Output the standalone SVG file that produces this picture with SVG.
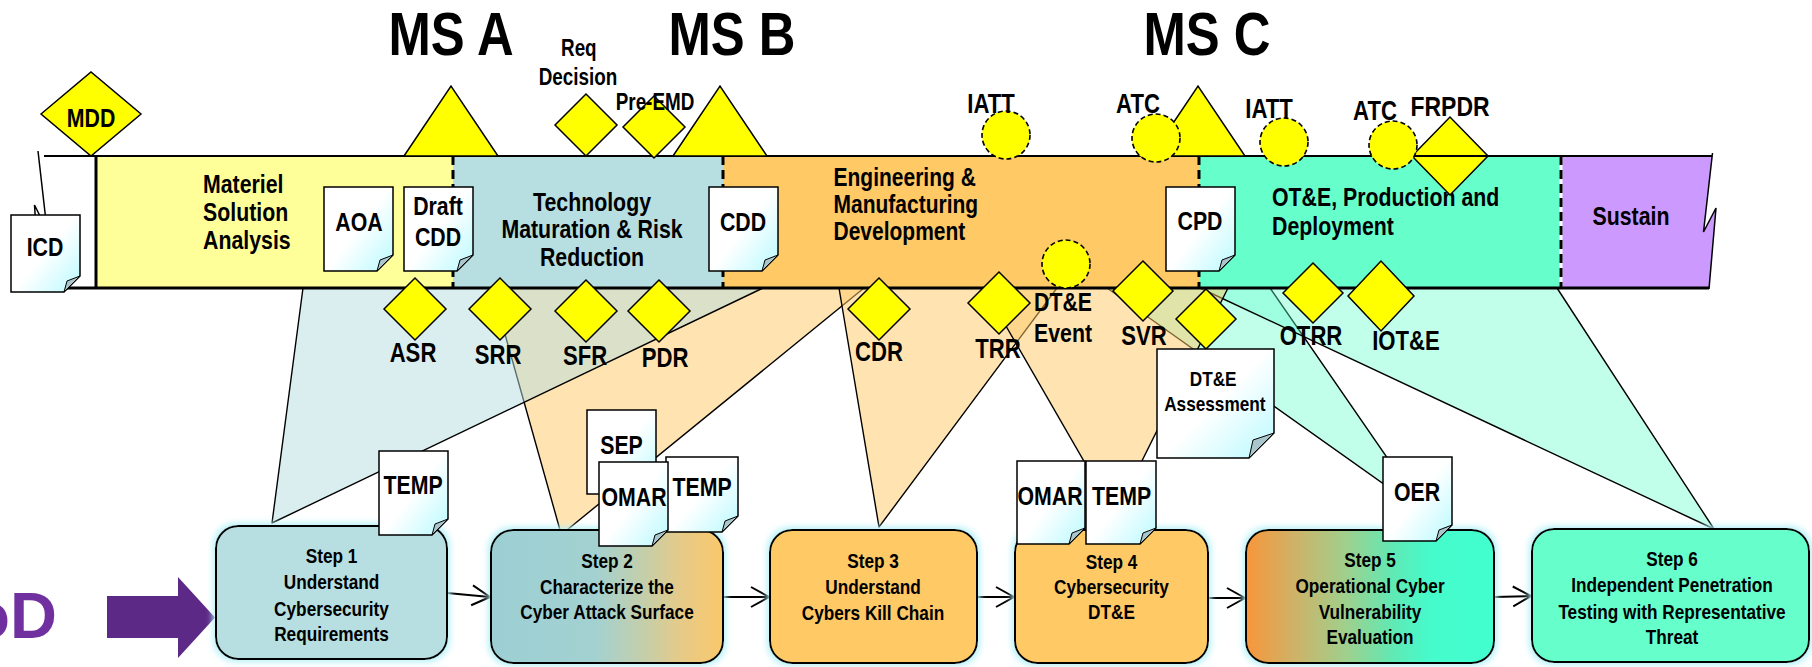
<svg xmlns="http://www.w3.org/2000/svg" width="1812" height="667" viewBox="0 0 1812 667">
<defs>
<style>
.t{font-family:"Liberation Sans Narrow","Arial Narrow","Liberation Sans",Arial,sans-serif;font-weight:bold;fill:#000}
.c{text-anchor:middle}
.f21{font-size:21px}
.f23{font-size:23px}
.f25{font-size:25px}
.f26{font-size:26px}
.f27{font-size:27px}
.f28{font-size:28px}
.ms{font-size:62px;text-anchor:middle}
.dia{fill:#ffff00;stroke:#000;stroke-width:1.5}
.circ{fill:#ffff00;stroke:#000;stroke-width:1.6;stroke-dasharray:5 3}
.tri{fill:#ffff00;stroke:#000;stroke-width:1.5}
.doc{fill:url(#docg);stroke:#000;stroke-width:1.5}
.fold{fill:#a8c6cc;stroke:#000;stroke-width:1}
.fun{stroke:#000;stroke-width:1.4;stroke-linejoin:round}
.fb{fill:#b7dde0;fill-opacity:.5}
.fo{fill:#ffc966;fill-opacity:.5}
.fm{fill:#66ffcc;fill-opacity:.4}
.div{stroke:#000;stroke-width:3;stroke-dasharray:9 5;fill:none}
.step{stroke:#000;stroke-width:2;filter:url(#glow)}
.arr{stroke:#000;stroke-width:2;fill:none;marker-end:url(#ah)}
.ln{stroke:#000;fill:none}
</style>
<linearGradient id="docg" x1="0.25" y1="0.2" x2="0.95" y2="0.85"><stop offset="0" stop-color="#ffffff"/><stop offset="0.4" stop-color="#ffffff"/><stop offset="1" stop-color="#c6fbff"/></linearGradient>
<linearGradient id="g2" x1="0" y1="0" x2="1" y2="0"><stop offset="0" stop-color="#9ccfd4"/><stop offset="0.45" stop-color="#a3d1d1"/><stop offset="0.67" stop-color="#c6cea8"/><stop offset="0.82" stop-color="#e6ca88"/><stop offset="1" stop-color="#fac86a"/></linearGradient>
<linearGradient id="g5" x1="0" y1="0" x2="1" y2="0"><stop offset="0" stop-color="#f8963a"/><stop offset="0.2" stop-color="#cdb368"/><stop offset="0.4" stop-color="#a0cf8c"/><stop offset="0.6" stop-color="#5eeab6"/><stop offset="0.75" stop-color="#45fbcc"/><stop offset="1" stop-color="#42ffd0"/></linearGradient>
<filter id="glow" x="-8%" y="-12%" width="116%" height="124%">
<feMorphology in="SourceAlpha" operator="dilate" radius="2" result="d"/>
<feGaussianBlur in="d" stdDeviation="3" result="b"/>
<feFlood flood-color="#b5f1f7"/>
<feComposite in2="b" operator="in" result="g"/>
<feMerge><feMergeNode in="g"/><feMergeNode in="SourceGraphic"/></feMerge>
</filter>
<marker id="ah" markerUnits="userSpaceOnUse" markerWidth="24" markerHeight="24" refX="19" refY="11" orient="auto"><path d="M1,1 L19,11 L1,21" fill="none" stroke="#000" stroke-width="2"/></marker>
</defs>

<g id="connectors">
<polygon class="fun fo" points="492,288 864,288 567,530 560,530"/>
<polygon class="fun fb" points="303,288 763,288 272,523"/>
<polygon class="fun fo" points="839,288 1057,288 879,527"/>
<polygon class="fun fm" points="1107,288 1270,288 1426,514"/>
<polygon class="fun fm" points="1200,288 1557,288 1714,529"/>
<polygon class="fun fo" points="984,288 1228,288 1115,515"/>
<line class="arr" x1="447" y1="593" x2="490" y2="597"/>
<line class="arr" x1="723" y1="597" x2="769" y2="597"/>
<line class="arr" x1="977" y1="597" x2="1014" y2="597"/>
<line class="arr" x1="1208" y1="598" x2="1245" y2="598"/>
<line class="arr" x1="1494" y1="597" x2="1531" y2="596"/>
</g>

<g id="band">
<rect x="96" y="156" width="357" height="132" fill="#ffff99"/>
<rect x="453" y="156" width="270" height="132" fill="#b7dee1"/>
<rect x="723" y="156" width="476" height="132" fill="#ffc966"/>
<rect x="1199" y="156" width="362" height="132" fill="#66ffcc"/>
<polygon points="1561,156 1712,156 1703.5,232 1716,208 1709,288 1561,288" fill="#cc99ff"/>
<line class="div" x1="453" y1="156" x2="453" y2="288"/>
<line class="div" x1="723" y1="156" x2="723" y2="288"/>
<line class="div" x1="1199" y1="156" x2="1199" y2="288"/>
<line x1="1561" y1="156" x2="1561" y2="288" stroke="#fff" stroke-width="3"/>
<line class="div" x1="1561" y1="156" x2="1561" y2="288"/>
<polyline class="ln" stroke-width="1.5" points="1712.5,153 1703.5,232 1716,208 1709,289"/>
<polyline class="ln" stroke-width="1.5" points="38,151 47,230 34.5,205 40,290"/>
<line class="ln" x1="96" y1="155" x2="96" y2="288" stroke-width="3"/>
<line class="ln" x1="40" y1="288" x2="1709" y2="288" stroke-width="3"/>
</g>

<g id="phase-msa"><text class="t f26" transform="translate(203,0) scale(.82,1)"><tspan x="0" y="193">Materiel</tspan><tspan x="0" y="221.5">Solution</tspan><tspan x="0" y="249.5">Analysis</tspan></text></g>
<g id="phase-tmrr"><text class="t f26 c" transform="translate(592,0) scale(.82,1)"><tspan x="0" y="211.5">Technology</tspan><tspan x="0" y="238.5">Maturation &amp; Risk</tspan><tspan x="0" y="266">Reduction</tspan></text></g>
<g id="phase-emd"><text class="t f25" transform="translate(833.5,0) scale(.84,1)"><tspan x="0" y="186">Engineering &amp;</tspan><tspan x="0" y="213">Manufacturing</tspan><tspan x="0" y="240">Development</tspan></text></g>
<g id="phase-pd"><text class="t f26" transform="translate(1272,0) scale(.82,1)"><tspan x="0" y="206.5">OT&amp;E, Production and</tspan><tspan x="0" y="235">Deployment</tspan></text></g>
<g id="phase-sustain"><text class="t f26 c" transform="translate(1631,0) scale(.82,1)" x="0" y="225">Sustain</text></g>

<g id="frpdr"><polygon class="dia" points="1412,156 1450,117 1488,156 1450,195"/><text class="t f28 c" transform="translate(1450,0) scale(.82,1)" x="0" y="116">FRPDR</text></g>
<line class="ln" x1="44" y1="156" x2="1712" y2="156" stroke-width="2"/>

<g id="ms-a"><polygon class="tri" points="404,156 451,86 498,156"/><text class="t ms" transform="translate(451,0) scale(.82,1)" x="0" y="55">MS A</text></g>
<g id="ms-b"><polygon class="tri" points="673,156 720,86 767,156"/><text class="t ms" transform="translate(732,0) scale(.82,1)" x="0" y="55">MS B</text></g>
<g id="ms-c"><polygon class="tri" points="1151,156 1198,86 1245,156"/><text class="t ms" transform="translate(1207,0) scale(.82,1)" x="0" y="55">MS C</text></g>

<g id="mdd"><polygon class="dia" points="41,114 91,72 141,114 91,156"/><text class="t f26 c" transform="translate(91,0) scale(.82,1)" x="0" y="127">MDD</text></g>
<g id="req"><polygon class="dia" points="555,125 586,94 617,125 586,156"/><text class="t f23 c" transform="translate(578,0) scale(.82,1)"><tspan x="1" y="56">Req</tspan><tspan x="0" y="85">Decision</tspan></text></g>
<g id="pre-emd"><polygon class="dia" points="623,127 654,96 685,127 654,158"/><text class="t f23 c" transform="translate(655,0) scale(.82,1)" x="0" y="110.5">Pre-EMD</text></g>

<g id="iatt1"><circle class="circ" cx="1006" cy="135" r="24"/><text class="t f27 c" transform="translate(991,0) scale(.82,1)" x="0" y="113">IATT</text></g>
<g id="atc1"><circle class="circ" cx="1156" cy="138" r="24"/><text class="t f27 c" transform="translate(1138,0) scale(.82,1)" x="0" y="113">ATC</text></g>
<g id="iatt2"><circle class="circ" cx="1284" cy="142" r="24"/><text class="t f27 c" transform="translate(1269,0) scale(.82,1)" x="0" y="118">IATT</text></g>
<g id="atc2"><circle class="circ" cx="1393" cy="145" r="24"/><text class="t f27 c" transform="translate(1375,0) scale(.82,1)" x="0" y="120">ATC</text></g>
<g id="dte-event"><circle class="circ" cx="1066" cy="264" r="24"/><text class="t f26" transform="translate(1034,0) scale(.82,1)"><tspan x="0" y="311">DT&amp;E</tspan><tspan x="0" y="342">Event</tspan></text></g>

<g id="asr"><polygon class="dia" points="384,309 415,278 446,309 415,340"/><text class="t f27 c" transform="translate(413,0) scale(.82,1)" x="0" y="362.5">ASR</text></g>
<g id="srr"><polygon class="dia" points="469,309 500,278 531,309 500,340"/><text class="t f27 c" transform="translate(498,0) scale(.82,1)" x="0" y="364">SRR</text></g>
<g id="sfr"><polygon class="dia" points="555,311 586,280 617,311 586,342"/><text class="t f27 c" transform="translate(585,0) scale(.82,1)" x="0" y="365">SFR</text></g>
<g id="pdr"><polygon class="dia" points="628,311 659,280 690,311 659,342"/><text class="t f27 c" transform="translate(665,0) scale(.82,1)" x="0" y="367">PDR</text></g>
<g id="cdr"><polygon class="dia" points="848,309 879,278 910,309 879,340"/><text class="t f27 c" transform="translate(879,0) scale(.82,1)" x="0" y="361.5">CDR</text></g>
<g id="trr"><polygon class="dia" points="968,303 999,272 1030,303 999,334"/><text class="t f27 c" transform="translate(998,0) scale(.82,1)" x="0" y="358">TRR</text></g>
<g id="svr"><polygon class="dia" points="1113,291 1143,261 1173,291 1143,321"/><text class="t f27 c" transform="translate(1144,0) scale(.82,1)" x="0" y="345">SVR</text></g>
<g id="dte-review"><polygon class="dia" points="1176,319 1206,289 1236,319 1206,349"/></g>
<g id="otrr"><polygon class="dia" points="1283,293 1313,263 1343,293 1313,323"/><text class="t f27 c" transform="translate(1311,0) scale(.82,1)" x="0" y="345">OTRR</text></g>
<g id="iote"><polygon class="dia" points="1348,296 1381,261 1414,296 1381,331"/><text class="t f27 c" transform="translate(1406,0) scale(.82,1)" x="0" y="350">IOT&amp;E</text></g>

<g id="icd"><path class="doc" d="M11,215 H80 V276 L64,292 H11 Z"/><path class="fold" d="M64,292 L80,276 L67,281 Z"/><text class="t f26 c" transform="translate(45,0) scale(.82,1)" x="0" y="256">ICD</text></g>
<g id="aoa"><path class="doc" d="M324,187 H393 V255 L377,271 H324 Z"/><path class="fold" d="M377,271 L393,255 L380,260 Z"/><text class="t f26 c" transform="translate(359,0) scale(.82,1)" x="0" y="231">AOA</text></g>
<g id="draft-cdd"><path class="doc" d="M404,187 H473 V255 L457,271 H404 Z"/><path class="fold" d="M457,271 L473,255 L460,260 Z"/><text class="t f26 c" transform="translate(438,0) scale(.82,1)"><tspan x="0" y="215">Draft</tspan><tspan x="0" y="246.5">CDD</tspan></text></g>
<g id="cdd"><path class="doc" d="M709,187 H778 V255 L762,271 H709 Z"/><path class="fold" d="M762,271 L778,255 L765,260 Z"/><text class="t f26 c" transform="translate(743,0) scale(.82,1)" x="0" y="231.5">CDD</text></g>
<g id="cpd"><path class="doc" d="M1166,187 H1235 V255 L1219,271 H1166 Z"/><path class="fold" d="M1219,271 L1235,255 L1222,260 Z"/><text class="t f26 c" transform="translate(1200,0) scale(.82,1)" x="0" y="230.5">CPD</text></g>
<g id="dte-assessment"><path class="doc" d="M1157,349 H1274 V433 L1249,458 H1157 Z"/><path class="fold" d="M1249,458 L1274,433 L1253,440 Z"/><text class="t f21 c" transform="translate(1214,0) scale(.82,1)"><tspan x="-1" y="386.5">DT&amp;E</tspan><tspan x="1" y="411.5">Assessment</tspan></text></g>

<g id="purple-arrow"><path d="M107,596 H178 V577 L215,617.5 L178,658 V638 H107 Z" fill="#5c2a86"/></g>
<g id="dod-label"><text x="57" y="638" font-family="'Liberation Sans',Arial,sans-serif" font-weight="bold" font-size="65" fill="#7030a0" text-anchor="end">oD</text></g>

<g id="step1"><rect class="step" x="216" y="526" width="231" height="133" rx="22" fill="#b7dfe1"/><text class="t f21 c" transform="translate(331.5,0) scale(.82,1)"><tspan x="0" y="563.5">Step 1</tspan><tspan x="0" y="589">Understand</tspan><tspan x="0" y="616">Cybersecurity</tspan><tspan x="0" y="641">Requirements</tspan></text></g>
<g id="step2"><rect class="step" x="491" y="530" width="232" height="133" rx="22" fill="url(#g2)"/><text class="t f21 c" transform="translate(607,0) scale(.82,1)"><tspan x="0" y="568.5">Step 2</tspan><tspan x="0" y="594">Characterize the</tspan><tspan x="0" y="619">Cyber Attack Surface</tspan></text></g>
<g id="step3"><rect class="step" x="770" y="530" width="207" height="133" rx="22" fill="#ffc966"/><text class="t f21 c" transform="translate(873,0) scale(.82,1)"><tspan x="0" y="568.5">Step 3</tspan><tspan x="0" y="594">Understand</tspan><tspan x="0" y="620">Cybers Kill Chain</tspan></text></g>
<g id="step4"><rect class="step" x="1015" y="530" width="193" height="133" rx="22" fill="#ffc966"/><text class="t f21 c" transform="translate(1111.5,0) scale(.82,1)"><tspan x="0" y="569">Step 4</tspan><tspan x="0" y="594">Cybersecurity</tspan><tspan x="0" y="619">DT&amp;E</tspan></text></g>
<g id="step5"><rect class="step" x="1246" y="530" width="248" height="133" rx="22" fill="url(#g5)"/><text class="t f21 c" transform="translate(1370,0) scale(.82,1)"><tspan x="0" y="567.5">Step 5</tspan><tspan x="0" y="593.5">Operational Cyber</tspan><tspan x="0" y="619">Vulnerability</tspan><tspan x="0" y="644">Evaluation</tspan></text></g>
<g id="step6"><rect class="step" x="1532" y="529" width="277" height="133" rx="22" fill="#66ffcc"/><text class="t f21 c" transform="translate(1672,0) scale(.82,1)"><tspan x="0" y="566.5">Step 6</tspan><tspan x="0" y="592.5">Independent Penetration</tspan><tspan x="0" y="619">Testing with Representative</tspan><tspan x="0" y="644">Threat</tspan></text></g>

<g id="temp1"><path class="doc" d="M379,451 H448 V519 L432,535 H379 Z"/><path class="fold" d="M432,535 L448,519 L435,524 Z"/><text class="t f26 c" transform="translate(413,0) scale(.82,1)" x="0" y="494">TEMP</text></g>
<g id="sep"><path class="doc" d="M587,410 H656 V478 L640,494 H587 Z"/><path class="fold" d="M640,494 L656,478 L643,483 Z"/><text class="t f26 c" transform="translate(621.5,0) scale(.82,1)" x="0" y="454">SEP</text></g>
<g id="temp2"><path class="doc" d="M666,457 H738 V516 L722,532 H666 Z"/><path class="fold" d="M722,532 L738,516 L725,521 Z"/><text class="t f26 c" transform="translate(702,0) scale(.82,1)" x="0" y="496">TEMP</text></g>
<g id="omar2"><path class="doc" d="M599,462 H668 V530 L652,546 H599 Z"/><path class="fold" d="M652,546 L668,530 L655,535 Z"/><text class="t f26 c" transform="translate(634,0) scale(.82,1)" x="0" y="506.5">OMAR</text></g>
<g id="omar4"><path class="doc" d="M1017,461 H1085 V528 L1069,544 H1017 Z"/><path class="fold" d="M1069,544 L1085,528 L1072,533 Z"/><text class="t f26 c" transform="translate(1050,0) scale(.82,1)" x="0" y="505">OMAR</text></g>
<g id="temp4"><path class="doc" d="M1086,461 H1156 V528 L1140,544 H1086 Z"/><path class="fold" d="M1140,544 L1156,528 L1143,533 Z"/><text class="t f26 c" transform="translate(1121.5,0) scale(.82,1)" x="0" y="505">TEMP</text></g>
<g id="oer"><path class="doc" d="M1383,457 H1452 V525 L1436,541 H1383 Z"/><path class="fold" d="M1436,541 L1452,525 L1439,530 Z"/><text class="t f26 c" transform="translate(1417,0) scale(.82,1)" x="0" y="501.5">OER</text></g>
</svg>
